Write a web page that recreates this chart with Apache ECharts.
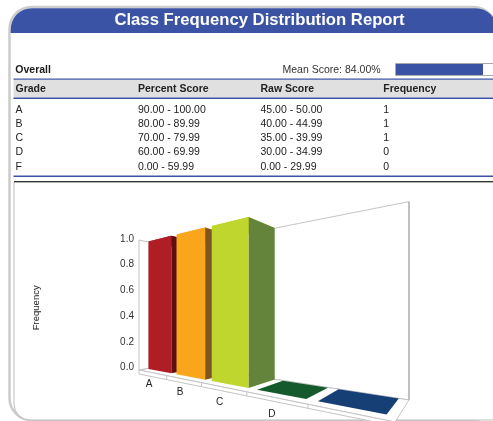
<!DOCTYPE html>
<html><head><meta charset="utf-8">
<style>html,body{margin:0;padding:0;background:#fff}#c{width:493px;height:421px}</style>
<script src="https://cdn.jsdelivr.net/npm/echarts@6/dist/echarts.min.js"></script>
</head><body><div id="c"></div>
<script>
var title = 'Class Frequency Distribution Report';
var overallLabel = 'Overall';
var meanLabel = 'Mean Score: 84.00%';
var meanScore = 84;
var columns = ['Grade', 'Percent Score', 'Raw Score', 'Frequency'];
var grades = ['A', 'B', 'C', 'D', 'F'];
var percentScores = ['90.00 - 100.00', '80.00 - 89.99', '70.00 - 79.99', '60.00 - 69.99', '0.00 - 59.99'];
var rawScores = ['45.00 - 50.00', '40.00 - 44.99', '35.00 - 39.99', '30.00 - 34.99', '0.00 - 29.99'];
var frequency = [1, 1, 1, 0, 0];
var frontColors = ['#B01E25', '#F9A61C', '#BFD62F', '#155A2C', '#153F75'];
var sideColors = ['#5E0F13', '#7F5520', '#63843A', '#155A2C', '#153F75'];

var FONT = 'Liberation Sans, Arial, sans-serif';
var GRID = {x: 139, y: 241.5, w: 270, h: 128.5};
var HORIZON = 313, HEIGHT_K = 2.28;
// floor corners in screen space: front-left, front-right, back-right, back-left
var FLOOR = [[139, 370], [395, 422], [409, 400], [176, 364]];

function homography(q) {
  var x0=q[0][0],y0=q[0][1],x1=q[1][0],y1=q[1][1],x2=q[2][0],y2=q[2][1],x3=q[3][0],y3=q[3][1];
  var dx1=x1-x2,dx2=x3-x2,sx=x0-x1+x2-x3,dy1=y1-y2,dy2=y3-y2,sy=y0-y1+y2-y3;
  var d=dx1*dy2-dx2*dy1;
  var g=(sx*dy2-dx2*sy)/d,h=(dx1*sy-sx*dy1)/d;
  var a=x1-x0+g*x1,b=x3-x0+h*x3,c=x0,e=y1-y0+g*y1,f=y3-y0+h*y3,k=y0;
  return function(s,t){var w=g*s+h*t+1;return [(a*s+b*t+c)/w,(e*s+f*t+k)/w];};
}
var H = homography(FLOOR);
function P(u, v, level) {
  var p = H(u / grades.length, v);
  return [p[0], p[1] - HEIGHT_K * (p[1] - HORIZON) * level];
}
function poly(pts, fill, stroke) {
  return {type:'polygon', shape:{points:pts}, style:{fill:fill, stroke:stroke||null, lineWidth:stroke?1:0}};
}
function line(a, b, color, w) {
  return {type:'line', shape:{x1:a[0],y1:a[1],x2:b[0],y2:b[1]}, style:{stroke:color, lineWidth:w||1}};
}
var WALL = '#c4c4c4';
function renderFrame() {
  var kids = [];
  kids.push(poly([P(0,0,0),P(0,0,1),P(0,1,1),P(0,1,0)], '#fff', WALL));
  kids.push(poly([P(0,1,0),P(0,1,1),P(5,1,1),P(5,1,0)], '#fff', WALL));
  kids.push(line(P(5,1,0),P(5,1,1),'#b5b5b5',1.5));
  kids.push(poly([P(0,0,0),P(5,0,0),P(5,1,0),P(0,1,0)], '#fff', WALL));
  var SL = 4;
  var a=P(0,0,0), b=P(5,0,0);
  kids.push(poly([a,b,[b[0],b[1]+SL],[a[0],a[1]+SL]], '#fff', WALL));
  for (var i=1;i<=5;i++){ var t=P(i,0,0); kids.push(line(t,[t[0],t[1]+SL],WALL)); }
  return {type:'group', children:kids};
}
var U0=0.05, U1=0.88, V0=0.2, V1=0.99;
function renderBar(params, api) {
  var c = api.coord([api.value(0), api.value(1)]);
  var u = (c[0]-params.coordSys.x)/params.coordSys.width*grades.length;
  var h = (params.coordSys.y+params.coordSys.height-c[1])/params.coordSys.height;
  var i = params.dataIndex, l = Math.floor(u);
  var a=l+U0, b=l+U1;
  var kids = [];
  kids.push(poly([P(a,V0,h),P(b,V0,h),P(b,V1,h),P(a,V1,h)], frontColors[i]));
  if (h>0) {
    kids.push(poly([P(b,V0,0),P(b,V0,h),P(b,V1,h),P(b,V1,0)], sideColors[i]));
    kids.push(poly([P(a,V0,0),P(a,V0,h),P(b,V0,h),P(b,V0,0)], frontColors[i]));
  }
  var lab = P(u,0,0);
  kids.push({type:'text', style:{text:grades[i], x:lab[0]-3, y:lab[1]+0.2*(lab[1]-HORIZON), fill:'#222', font:'10px '+FONT, textAlign:'center', textVerticalAlign:'middle'}});
  return {type:'group', children:kids};
}

var g = [];
function txt(s,x,y,font,fill,align){g.push({type:'text',z:5,style:{text:s,x:x,y:y,font:font,fill:fill||'#1a1a1a',textAlign:align||'left',textVerticalAlign:'middle'}});}
function rect(x,y,w,h,fill,stroke,r,lw,z){g.push({type:'rect',z:z||1,shape:{x:x,y:y,width:w,height:h,r:r||0},style:{fill:fill||'transparent',stroke:stroke||null,lineWidth:lw||0}});}
rect(9.5,7,486,413,'#fff','#cccccc',22,2.5,0);
rect(10.7,8.2,486,24.8,'#3A53A4',null,[21,21,0,0],0,1);
txt(title,259.5,20.5,'bold 16.7px '+FONT,'#fff','center');
txt(overallLabel,15.3,70.5,'bold 10.5px '+FONT);
txt(meanLabel,282.5,70.5,'10.5px '+FONT,'#333');
rect(395.5,63.5,110,12,'#fff','#aaa',0,1,1);
rect(396,64,meanScore+3,11,'#3A53A4',null,0,0,2);
rect(13.5,78.5,480,1.3,'#3A53A4');
rect(13.5,80,480,17.5,'#E0E0E0');
rect(13.5,97.6,480,1.3,'#3A53A4');
var colX=[15.5,138,260.5,383.3];
columns.forEach(function(s,i){txt(s,colX[i],89.5,'bold 10.5px '+FONT,'#222');});
var rowY=[110.5,124.5,138.5,152.5,167];
grades.forEach(function(s,i){
  txt(s,colX[0],rowY[i],'10.5px '+FONT,'#222');
  txt(percentScores[i],colX[1],rowY[i],'10.5px '+FONT,'#222');
  txt(rawScores[i],colX[2],rowY[i],'10.5px '+FONT,'#222');
  txt(String(frequency[i]),colX[3],rowY[i],'10.5px '+FONT,'#222');
});
rect(13.5,175.6,480,1.3,'#3A53A4');
rect(14,182,490,238,'#fff','#bdbdbd',[0,0,0,16],1,1);
rect(14,181,480,1.2,'#333');

var chart = echarts.init(document.getElementById('c'), null, {renderer:'canvas'});
chart.setOption({
  animation:false,
  graphic:{elements:g},
  grid:{left:GRID.x, top:GRID.y, width:GRID.w, height:GRID.h, containLabel:false},
  xAxis:{type:'category', data:grades, show:false},
  yAxis:{type:'value', min:0, max:1, interval:0.2, z:10, splitLine:{show:false},
    name:'Frequency', nameLocation:'middle', nameGap:98, nameRotate:90,
    nameTextStyle:{color:'#222', fontFamily:FONT, fontSize:9.5, padding:[0,4,0,0]},
    axisLine:{show:false}, axisTick:{show:false},
    axisLabel:{color:'#333', fontFamily:FONT, fontSize:10, margin:5, verticalAlign:'bottom', lineHeight:5, formatter:function(v){return v.toFixed(1);}}},
  series:[
    {type:'custom', silent:true, z:2, renderItem:renderFrame, data:[[0,0]], encode:{x:0,y:1}},
    {type:'custom', silent:true, z:3, renderItem:renderBar, data:grades.map(function(_,i){return [i,frequency[i]];}), encode:{x:0,y:1}}
  ]
});
</script></body></html>
